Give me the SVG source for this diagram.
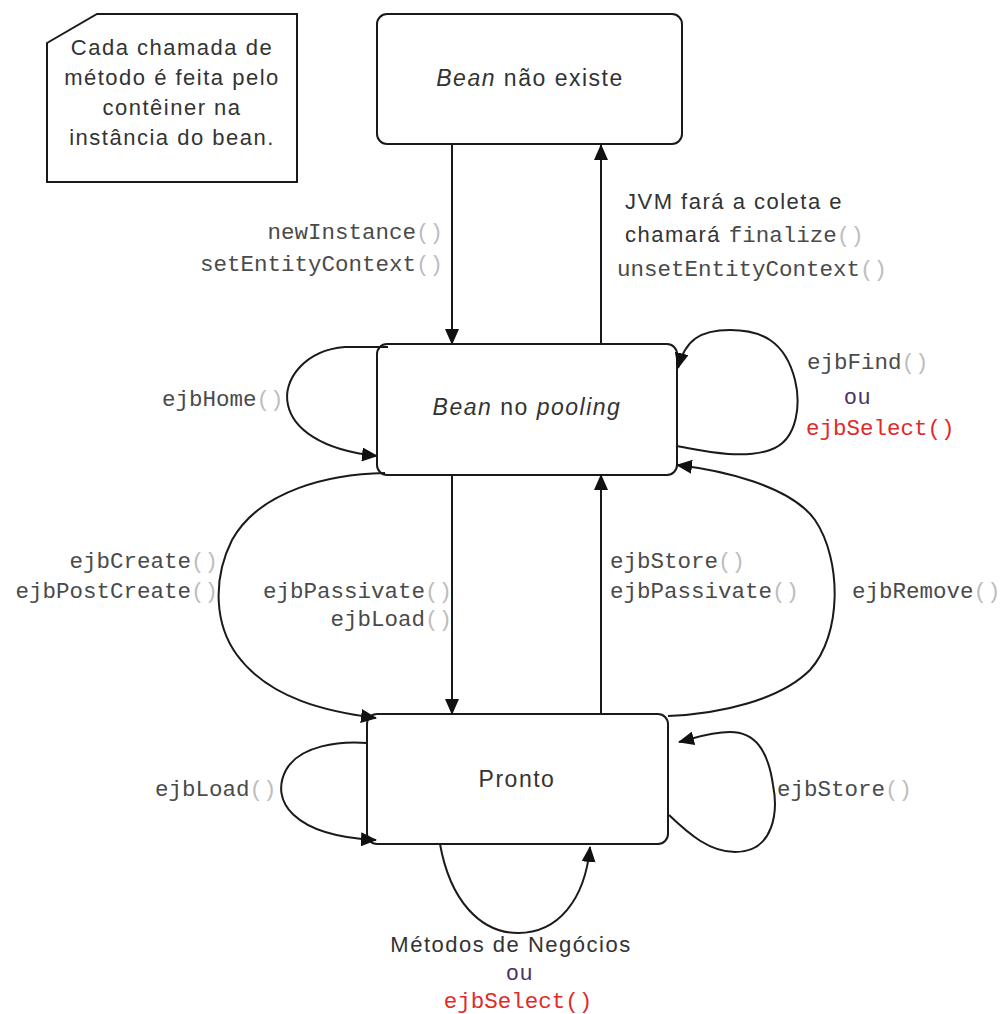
<svg xmlns="http://www.w3.org/2000/svg" width="1002" height="1014" viewBox="0 0 1002 1014">
  <style>
    .box { fill: #ffffff; stroke: #1a1a1a; stroke-width: 2; }
    .edge { fill: none; stroke: #1a1a1a; stroke-width: 2; }
    .sans { font-family: "Liberation Sans", Arial, sans-serif; font-size: 22px; fill: #333333; letter-spacing: 1.5px; }
    .state { font-family: "Liberation Sans", Arial, sans-serif; font-size: 23px; fill: #333333; letter-spacing: 1.5px; }
    .mono { font-family: "Liberation Mono", "Courier New", monospace; font-size: 22.5px; fill: #4a4a4a; letter-spacing: 0; }
    .paren { fill: #bdbdbd; }
    .red { fill: #e02a2a; }
    .ou { fill: #4a3266; }
  </style>
  <defs>
    <marker id="arrow" viewBox="0 0 16 14" refX="15" refY="7" markerWidth="16" markerHeight="14" markerUnits="userSpaceOnUse" orient="auto">
      <path d="M0 0 L16 7 L0 14 Z" fill="#111111"/>
    </marker>
  </defs>

  <rect width="1002" height="1014" fill="#ffffff"/>

  <!-- note in the corner -->
  <g id="note">
    <polygon class="box" points="47,43 97,14 297,14 297,182 47,182"/>
    <text class="sans" text-anchor="middle" x="172" y="55">Cada chamada de</text>
    <text class="sans" text-anchor="middle" x="172" y="85">método é feita pelo</text>
    <text class="sans" text-anchor="middle" x="172" y="115">contêiner na</text>
    <text class="sans" text-anchor="middle" x="172" y="145">instância do bean.</text>
  </g>

  <!-- states -->
  <g id="state-nao-existe">
    <rect class="box" x="377" y="14" width="305" height="130" rx="10"/>
    <text class="state" text-anchor="middle" x="530" y="86"><tspan font-style="italic">Bean</tspan> não existe</text>
  </g>
  <g id="state-pooling">
    <rect class="box" x="377" y="344" width="300" height="131" rx="10"/>
    <text class="state" text-anchor="middle" x="527" y="415"><tspan font-style="italic">Bean</tspan> no <tspan font-style="italic">pooling</tspan></text>
  </g>
  <g id="state-pronto">
    <rect class="box" x="367" y="714" width="301" height="130" rx="10"/>
    <text class="state" text-anchor="middle" x="517" y="787">Pronto</text>
  </g>

  <!-- transitions -->
  <g id="connectors">
    <path class="edge" marker-end="url(#arrow)" d="M452 144 L452 344"/>
    <path class="edge" marker-end="url(#arrow)" d="M601 344 L601 145"/>
    <path class="edge" marker-end="url(#arrow)" d="M452 475 L452 714"/>
    <path class="edge" marker-end="url(#arrow)" d="M601 714 L601 475"/>
    <!-- ejbHome -->
    <path class="edge" marker-end="url(#arrow)" d="M388 347 L345 347 C305 350 282 380 288 405 C293 428 320 450 377 456"/>
    <!-- ejbFind / ejbSelect -->
    <path class="edge" marker-end="url(#arrow)" d="M676 446 C700 450 740 460 770 450 C800 440 800 400 795 380 C785 340 760 330 730 330 C700 330 685 340 678 368"/>
    <!-- ejbCreate -->
    <path class="edge" marker-end="url(#arrow)" d="M385 473 C330 474 260 490 232 540 C212 580 215 625 237 655 C270 700 330 712 376 718"/>
    <!-- ejbRemove -->
    <path class="edge" marker-end="url(#arrow)" d="M668 716 C720 714 780 700 810 670 C842 635 842 560 815 520 C790 485 720 470 677 465"/>
    <!-- ejbLoad on Pronto -->
    <path class="edge" marker-end="url(#arrow)" d="M367 743 C340 741 300 745 286 770 C270 800 292 836 376 840"/>
    <!-- ejbStore on Pronto -->
    <path class="edge" marker-end="url(#arrow)" d="M669 815 C690 835 710 852 735 852 C775 852 778 810 773 785 C768 750 755 732 730 732 C710 732 695 738 679 742"/>
    <!-- business methods -->
    <path class="edge" marker-end="url(#arrow)" d="M440 844 C450 900 480 933 518 933 C558 933 585 900 590 847"/>
  </g>

  <!-- transition labels -->
  <g id="labels">
    <text class="mono" text-anchor="end" x="443" y="239">newInstance<tspan class="paren">()</tspan></text>
    <text class="mono" text-anchor="end" x="443" y="271">setEntityContext<tspan class="paren">()</tspan></text>

    <text class="sans" x="625" y="209">JVM fará a coleta e</text>
    <text class="sans" x="625" y="242">chamará <tspan class="mono">finalize</tspan><tspan class="mono paren">()</tspan></text>
    <text class="mono" x="617" y="276">unsetEntityContext<tspan class="paren">()</tspan></text>

    <text class="mono" x="162" y="406">ejbHome<tspan class="paren">()</tspan></text>

    <text class="mono" x="807" y="369">ejbFind<tspan class="paren">()</tspan></text>
    <text class="sans ou" text-anchor="middle" x="858" y="404">ou</text>
    <text class="mono red" x="806" y="435">ejbSelect()</text>

    <text class="mono" text-anchor="end" x="218" y="568">ejbCreate<tspan class="paren">()</tspan></text>
    <text class="mono" text-anchor="end" x="218" y="598">ejbPostCreate<tspan class="paren">()</tspan></text>
    <text class="mono" text-anchor="end" x="452" y="598">ejbPassivate<tspan class="paren">()</tspan></text>
    <text class="mono" text-anchor="end" x="452" y="626">ejbLoad<tspan class="paren">()</tspan></text>

    <text class="mono" x="610" y="568">ejbStore<tspan class="paren">()</tspan></text>
    <text class="mono" x="610" y="598">ejbPassivate<tspan class="paren">()</tspan></text>
    <text class="mono" x="852" y="598">ejbRemove<tspan class="paren">()</tspan></text>

    <text class="mono" x="155" y="796">ejbLoad<tspan class="paren">()</tspan></text>
    <text class="mono" x="777" y="796">ejbStore<tspan class="paren">()</tspan></text>

    <text class="sans" text-anchor="middle" x="511" y="952">Métodos de Negócios</text>
    <text class="sans ou" text-anchor="middle" x="520" y="980">ou</text>
    <text class="mono red" text-anchor="middle" x="518" y="1008" font-size="21">ejbSelect()</text>
  </g>
</svg>
